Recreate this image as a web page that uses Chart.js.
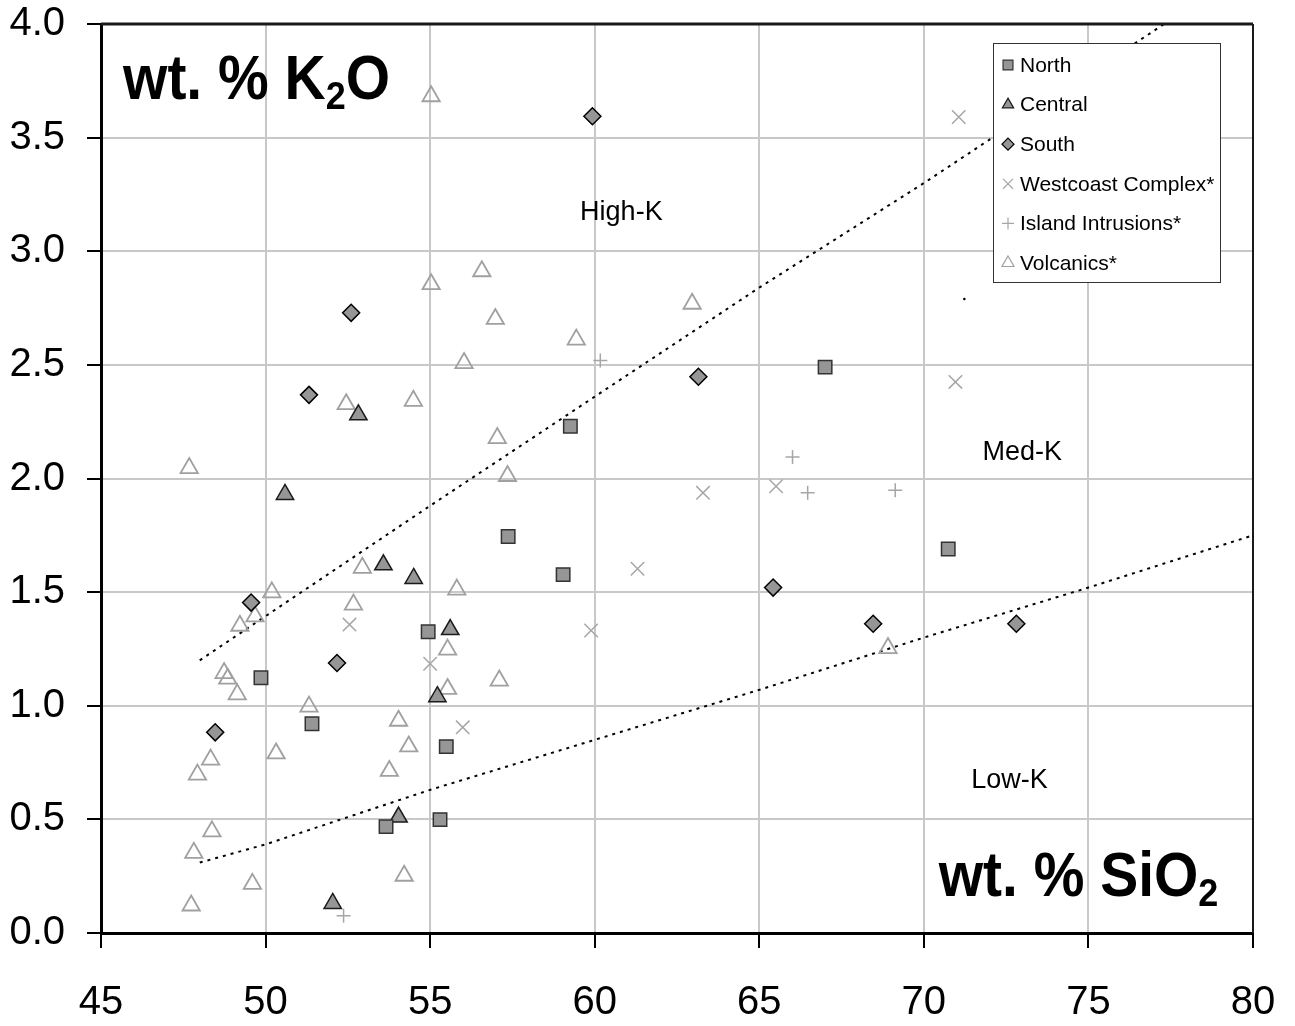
<!DOCTYPE html>
<html>
<head>
<meta charset="utf-8">
<script src="https://cdn.jsdelivr.net/npm/chart.js@4.4.0/dist/chart.umd.min.js"></script>
<style>
    html, body { margin: 0; padding: 0; background: #ffffff; }
    #wrap { width: 1295px; height: 1026px; }
</style>
</head>
<body>
<div id="wrap"><canvas id="myChart"></canvas></div>
<script>
// ---- data (SiO2 wt.% vs K2O wt.%) ----
const northX = [67.00, 59.26, 57.37, 59.04, 54.94, 49.86, 51.41, 55.49, 53.66, 55.30, 70.74];
const northY = [2.49, 2.23, 1.745, 1.577, 1.326, 1.123, 0.921, 0.82, 0.468, 0.499, 1.69];

const centralX = [52.82, 50.59, 53.58, 54.50, 55.61, 55.22, 54.04, 52.04];
const centralY = [2.28, 1.93, 1.62, 1.56, 1.335, 1.04, 0.51, 0.13];

const southX = [59.93, 52.60, 51.32, 63.15, 49.56, 52.17, 48.47, 65.42, 68.46, 72.81];
const southY = [3.594, 2.729, 2.368, 2.448, 1.454, 1.188, 0.883, 1.520, 1.361, 1.361];

const westcoastX = [71.06, 70.96, 63.29, 65.51, 61.30, 59.89, 52.55, 55.00, 55.99];
const westcoastY = [3.591, 2.425, 1.937, 1.966, 1.603, 1.331, 1.357, 1.185, 0.905];

const islandX = [60.17, 66.01, 66.47, 69.13, 52.37];
const islandY = [2.519, 2.095, 1.937, 1.948, 0.076];

const volcanicsX = [55.03, 55.03, 56.57, 56.98, 62.96, 59.44, 56.03, 52.45, 54.49, 47.68,
                    57.04, 57.35, 52.94, 50.19, 52.67, 55.81, 49.22, 49.68, 55.53, 48.74,
                    48.85, 49.14, 55.53, 57.10, 51.32, 50.32, 48.33, 47.93, 54.04, 54.35,
                    53.76, 48.37, 47.82, 49.60, 54.21, 47.74, 68.91];
const volcanicsY = [3.682, 2.855, 2.912, 2.702, 2.769, 2.611, 2.508, 2.327, 2.342, 2.046,
                    2.178, 2.011, 1.607, 1.499, 1.445, 1.511, 1.352, 1.393, 1.247, 1.144,
                    1.119, 1.050, 1.074, 1.111, 0.996, 0.790, 0.763, 0.697, 0.934, 0.821,
                    0.713, 0.447, 0.353, 0.216, 0.252, 0.121, 1.254];

// boundary lines (High-K / Med-K and Med-K / Low-K)
const highBoundX = [48, 55, 60, 65, 70, 77.3];
const highBoundY = [1.20, 1.88, 2.36, 2.84, 3.30, 4.00];
const lowBoundX  = [48, 50, 55, 60, 65, 70, 75, 80];
const lowBoundY  = [0.31, 0.39, 0.63, 0.85, 1.07, 1.30, 1.52, 1.75];
const strayX = [71.23];
const strayY = [2.79];

const xTicks = [45, 50, 55, 60, 65, 70, 75, 80];
const yTicks = [0, 0.5, 1, 1.5, 2, 2.5, 3, 3.5, 4];

const regionLabels = ["High-K", "Med-K", "Low-K"];
const regionX = [60.81, 72.99, 72.60];
const regionY = [3.17, 2.116, 0.670];

const FONT = "'Liberation Sans', Arial, sans-serif";

function pts(xs, ys) {
    return xs.map((x, i) => ({ x, y: ys[i] }));
}

const datasets = [
    {
        label: "North", data: pts(northX, northY),
        pointStyle: "rect", pointRadius: 9.5, pointHoverRadius: 9.5,
        backgroundColor: "#969696", borderColor: "#333333", borderWidth: 1.5,
        legendRadius: 7,
    },
    {
        label: "Central", data: pts(centralX, centralY),
        pointStyle: "triangle", pointRadius: 10, pointHoverRadius: 10,
        backgroundColor: "#969696", borderColor: "#1a1a1a", borderWidth: 1.5,
        legendRadius: 6.5,
    },
    {
        label: "South", data: pts(southX, southY),
        pointStyle: "rectRot", pointRadius: 8.5, pointHoverRadius: 8.5,
        backgroundColor: "#969696", borderColor: "#000000", borderWidth: 1.5,
        legendRadius: 6,
    },
    {
        label: "Westcoast Complex*", data: pts(westcoastX, westcoastY),
        pointStyle: "crossRot", pointRadius: 9.5, pointHoverRadius: 9.5,
        backgroundColor: "#a6a6a6", borderColor: "#a6a6a6", borderWidth: 1.5,
        legendRadius: 7,
    },
    {
        label: "Island Intrusions*", data: pts(islandX, islandY),
        pointStyle: "cross", pointRadius: 7, pointHoverRadius: 7,
        backgroundColor: "#a6a6a6", borderColor: "#a6a6a6", borderWidth: 1.5,
        legendRadius: 6,
    },
    {
        label: "Volcanics*", data: pts(volcanicsX, volcanicsY),
        pointStyle: "triangle", pointRadius: 10, pointHoverRadius: 10,
        backgroundColor: "rgba(255,255,255,0)", borderColor: "#a0a0a0", borderWidth: 1.8,
        legendRadius: 7,
    },
    {
        label: "", data: pts(highBoundX, highBoundY), type: "line", showLine: true,
        borderColor: "#000000", borderWidth: 2, borderDash: [3, 5], pointRadius: 0,
        fill: false, hideInLegend: true,
    },
    {
        label: "", data: pts(lowBoundX, lowBoundY), type: "line", showLine: true,
        borderColor: "#000000", borderWidth: 2, borderDash: [3, 5], pointRadius: 0,
        fill: false, hideInLegend: true,
    },
    {
        label: "", data: pts(strayX, strayY), pointStyle: "circle", pointRadius: 1.3,
        backgroundColor: "#000000", borderWidth: 0, hideInLegend: true,
    },
];

function drawFormula(ctx, px, py, parts) {
    ctx.save();
    ctx.translate(px, py);
    ctx.scale(1, 1.1);
    ctx.fillStyle = "#000000";
    ctx.textAlign = "left";
    ctx.textBaseline = "alphabetic";
    let cx = 0;
    for (const [t, sub] of parts) {
        ctx.font = sub ? `bold 36px ${FONT}` : `bold 57px ${FONT}`;
        ctx.fillText(t, cx, sub ? 9 : 0);
        cx += ctx.measureText(t).width;
    }
    ctx.restore();
}

function marker(ctx, style, r, x, y) {
    if (Chart.helpers && Chart.helpers.drawPoint) {
        Chart.helpers.drawPoint(ctx, { pointStyle: style, radius: r, rotation: 0, borderWidth: ctx.lineWidth }, x, y);
    }
}

// keep the plot rectangle where the reference has it
function noOverhang(axis) {
    axis.paddingTop = 0;
    axis.paddingBottom = 0;
    axis.paddingLeft = 0;
    axis.paddingRight = 0;
}

const overlay = {
    id: "overlay",
    afterDatasetsDraw(chart) {
        const ctx = chart.ctx;
        const xs = chart.scales.x, ys = chart.scales.y;
        const area = chart.chartArea;

        // frame (top + right)
        ctx.save();
        ctx.strokeStyle = "#1a1a1a";
        ctx.lineWidth = 3;
        ctx.beginPath();
        ctx.moveTo(area.left, area.top);
        ctx.lineTo(area.right, area.top);
        ctx.stroke();
        ctx.lineWidth = 2;
        ctx.beginPath();
        ctx.moveTo(area.right, area.top);
        ctx.lineTo(area.right, area.bottom);
        ctx.stroke();

        // region names
        ctx.fillStyle = "#000000";
        ctx.font = `27px ${FONT}`;
        ctx.textAlign = "center";
        ctx.textBaseline = "middle";
        regionLabels.forEach((t, i) => {
            ctx.fillText(t, xs.getPixelForValue(regionX[i]), ys.getPixelForValue(regionY[i]));
        });
        ctx.restore();

        // axis titles inside plot
        drawFormula(ctx, xs.getPixelForValue(45.67), ys.getPixelForValue(3.668),
            [["wt. % K", false], ["2", true], ["O", false]]);
        drawFormula(ctx, xs.getPixelForValue(70.45), ys.getPixelForValue(0.161),
            [["wt. % SiO", false], ["2", true]]);

        // legend box
        const box = { left: 993, top: 43, width: 227, height: 239 };
        ctx.save();
        ctx.fillStyle = "#ffffff";
        ctx.fillRect(box.left, box.top, box.width, box.height);
        ctx.strokeStyle = "#333333";
        ctx.lineWidth = 1;
        ctx.strokeRect(box.left + 0.5, box.top + 0.5, box.width, box.height);

        let row = 0;
        for (const ds of chart.data.datasets) {
            if (ds.hideInLegend) continue;
            const cy = box.top + 22 + row * 39.6;
            ctx.fillStyle = ds.backgroundColor;
            ctx.strokeStyle = ds.borderColor;
            ctx.lineWidth = Math.min(ds.borderWidth, 1.2);
            marker(ctx, ds.pointStyle, ds.legendRadius, box.left + 15, cy);
            ctx.fillStyle = "#000000";
            ctx.font = `21px ${FONT}`;
            ctx.textAlign = "left";
            ctx.textBaseline = "middle";
            ctx.fillText(ds.label, box.left + 27, cy + 1);
            row++;
        }
        ctx.restore();
    }
};

const ctx = document.getElementById("myChart").getContext("2d");
new Chart(ctx, {
    type: "scatter",
    data: { datasets },
    plugins: [overlay],
    options: {
        responsive: true,
        maintainAspectRatio: false,
        devicePixelRatio: 1,
        animation: false,
        layout: { padding: { top: 24, right: 42, left: 0, bottom: 0 } },
        plugins: {
            legend: { display: false },
            tooltip: { enabled: false },
        },
        scales: {
            x: {
                type: "linear",
                min: 45, max: 80,
                afterBuildTicks: axis => { axis.ticks = xTicks.map(v => ({ value: v })); },
                afterFit: axis => { axis.height = 93; noOverhang(axis); },
                grid: { color: "#c8c8c8", lineWidth: 2, drawTicks: true, tickLength: 15, tickColor: "#000000", tickWidth: 2 },
                border: { display: true, color: "#000000", width: 3 },
                ticks: { color: "#000000", font: { family: FONT, size: 40 }, padding: 31, maxRotation: 0 },
            },
            y: {
                type: "linear",
                min: 0, max: 4,
                afterBuildTicks: axis => { axis.ticks = yTicks.map(v => ({ value: v })); },
                afterFit: axis => { axis.width = 101; noOverhang(axis); },
                grid: { color: "#c8c8c8", lineWidth: 2, drawTicks: true, tickLength: 14, tickColor: "#000000", tickWidth: 2 },
                border: { display: true, color: "#000000", width: 3 },
                ticks: { color: "#000000", font: { family: FONT, size: 40 }, padding: 22, callback: v => v.toFixed(1) },
            },
        },
    },
});
</script>
</body>
</html>
